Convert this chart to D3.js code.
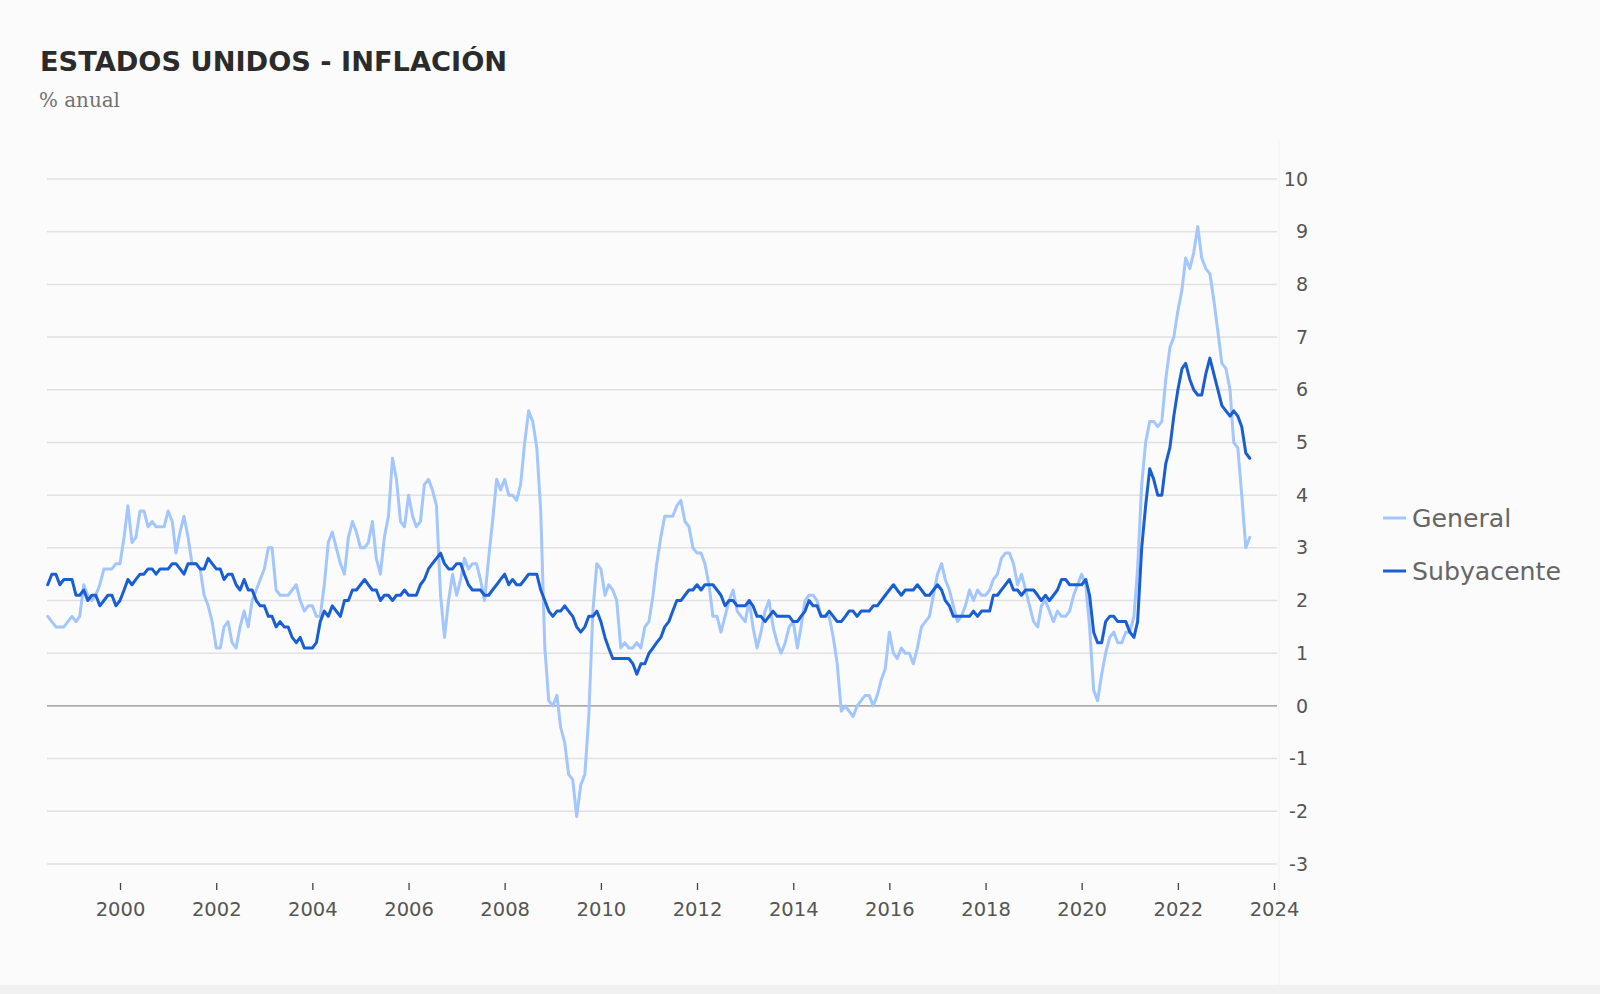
<!DOCTYPE html>
<html>
<head>
<meta charset="utf-8">
<script src="https://cdn.jsdelivr.net/npm/d3@7"></script>
<style>
  html, body { margin: 0; padding: 0; background: #fbfbfb; }
  svg { display: block; }
</style>
</head>
<body>
<svg id="chart" width="1600" height="994"></svg>
<script>
// ---- DATA (monthly, year-on-year %, starting July 1998) ----
const startMonth = "1998-07";
const endMonth = "2023-07";

const general = [
  // 1998 Jul-Dec
  1.7, 1.6, 1.5, 1.5, 1.5, 1.6,
  // 1999
  1.7, 1.6, 1.7, 2.3, 2.1, 2.0, 2.1, 2.3, 2.6, 2.6, 2.6, 2.7,
  // 2000
  2.7, 3.2, 3.8, 3.1, 3.2, 3.7, 3.7, 3.4, 3.5, 3.4, 3.4, 3.4,
  // 2001
  3.7, 3.5, 2.9, 3.3, 3.6, 3.2, 2.7, 2.7, 2.6, 2.1, 1.9, 1.6,
  // 2002
  1.1, 1.1, 1.5, 1.6, 1.2, 1.1, 1.5, 1.8, 1.5, 2.0, 2.2, 2.4,
  // 2003
  2.6, 3.0, 3.0, 2.2, 2.1, 2.1, 2.1, 2.2, 2.3, 2.0, 1.8, 1.9,
  // 2004
  1.9, 1.7, 1.7, 2.3, 3.1, 3.3, 3.0, 2.7, 2.5, 3.2, 3.5, 3.3,
  // 2005
  3.0, 3.0, 3.1, 3.5, 2.8, 2.5, 3.2, 3.6, 4.7, 4.3, 3.5, 3.4,
  // 2006
  4.0, 3.6, 3.4, 3.5, 4.2, 4.3, 4.1, 3.8, 2.1, 1.3, 2.0, 2.5,
  // 2007
  2.1, 2.4, 2.8, 2.6, 2.7, 2.7, 2.4, 2.0, 2.8, 3.5, 4.3, 4.1,
  // 2008
  4.3, 4.0, 4.0, 3.9, 4.2, 5.0, 5.6, 5.4, 4.9, 3.7, 1.1, 0.1,
  // 2009
  0.0, 0.2, -0.4, -0.7, -1.3, -1.4, -2.1, -1.5, -1.3, -0.2, 1.8, 2.7,
  // 2010
  2.6, 2.1, 2.3, 2.2, 2.0, 1.1, 1.2, 1.1, 1.1, 1.2, 1.1, 1.5,
  // 2011
  1.6, 2.1, 2.7, 3.2, 3.6, 3.6, 3.6, 3.8, 3.9, 3.5, 3.4, 3.0,
  // 2012
  2.9, 2.9, 2.7, 2.3, 1.7, 1.7, 1.4, 1.7, 2.0, 2.2, 1.8, 1.7,
  // 2013
  1.6, 2.0, 1.5, 1.1, 1.4, 1.8, 2.0, 1.5, 1.2, 1.0, 1.2, 1.5,
  // 2014
  1.6, 1.1, 1.5, 2.0, 2.1, 2.1, 2.0, 1.7, 1.7, 1.7, 1.3, 0.8,
  // 2015
  -0.1, 0.0, -0.1, -0.2, 0.0, 0.1, 0.2, 0.2, 0.0, 0.2, 0.5, 0.7,
  // 2016
  1.4, 1.0, 0.9, 1.1, 1.0, 1.0, 0.8, 1.1, 1.5, 1.6, 1.7, 2.1,
  // 2017
  2.5, 2.7, 2.4, 2.2, 1.9, 1.6, 1.7, 1.9, 2.2, 2.0, 2.2, 2.1,
  // 2018
  2.1, 2.2, 2.4, 2.5, 2.8, 2.9, 2.9, 2.7, 2.3, 2.5, 2.2, 1.9,
  // 2019
  1.6, 1.5, 1.9, 2.0, 1.8, 1.6, 1.8, 1.7, 1.7, 1.8, 2.1, 2.3,
  // 2020
  2.5, 2.3, 1.5, 0.3, 0.1, 0.6, 1.0, 1.3, 1.4, 1.2, 1.2, 1.4,
  // 2021
  1.4, 1.7, 2.6, 4.2, 5.0, 5.4, 5.4, 5.3, 5.4, 6.2, 6.8, 7.0,
  // 2022
  7.5, 7.9, 8.5, 8.3, 8.6, 9.1, 8.5, 8.3, 8.2, 7.7, 7.1, 6.5,
  // 2023 Jan-Jul
  6.4, 6.0, 5.0, 4.9, 4.0, 3.0, 3.2
];

const subyacente = [
  // 1998 Jul-Dec
  2.3, 2.5, 2.5, 2.3, 2.4, 2.4,
  // 1999
  2.4, 2.1, 2.1, 2.2, 2.0, 2.1, 2.1, 1.9, 2.0, 2.1, 2.1, 1.9,
  // 2000
  2.0, 2.2, 2.4, 2.3, 2.4, 2.5, 2.5, 2.6, 2.6, 2.5, 2.6, 2.6,
  // 2001
  2.6, 2.7, 2.7, 2.6, 2.5, 2.7, 2.7, 2.7, 2.6, 2.6, 2.8, 2.7,
  // 2002
  2.6, 2.6, 2.4, 2.5, 2.5, 2.3, 2.2, 2.4, 2.2, 2.2, 2.0, 1.9,
  // 2003
  1.9, 1.7, 1.7, 1.5, 1.6, 1.5, 1.5, 1.3, 1.2, 1.3, 1.1, 1.1,
  // 2004
  1.1, 1.2, 1.6, 1.8, 1.7, 1.9, 1.8, 1.7, 2.0, 2.0, 2.2, 2.2,
  // 2005
  2.3, 2.4, 2.3, 2.2, 2.2, 2.0, 2.1, 2.1, 2.0, 2.1, 2.1, 2.2,
  // 2006
  2.1, 2.1, 2.1, 2.3, 2.4, 2.6, 2.7, 2.8, 2.9, 2.7, 2.6, 2.6,
  // 2007
  2.7, 2.7, 2.5, 2.3, 2.2, 2.2, 2.2, 2.1, 2.1, 2.2, 2.3, 2.4,
  // 2008
  2.5, 2.3, 2.4, 2.3, 2.3, 2.4, 2.5, 2.5, 2.5, 2.2, 2.0, 1.8,
  // 2009
  1.7, 1.8, 1.8, 1.9, 1.8, 1.7, 1.5, 1.4, 1.5, 1.7, 1.7, 1.8,
  // 2010
  1.6, 1.3, 1.1, 0.9, 0.9, 0.9, 0.9, 0.9, 0.8, 0.6, 0.8, 0.8,
  // 2011
  1.0, 1.1, 1.2, 1.3, 1.5, 1.6, 1.8, 2.0, 2.0, 2.1, 2.2, 2.2,
  // 2012
  2.3, 2.2, 2.3, 2.3, 2.3, 2.2, 2.1, 1.9, 2.0, 2.0, 1.9, 1.9,
  // 2013
  1.9, 2.0, 1.9, 1.7, 1.7, 1.6, 1.7, 1.8, 1.7, 1.7, 1.7, 1.7,
  // 2014
  1.6, 1.6, 1.7, 1.8, 2.0, 1.9, 1.9, 1.7, 1.7, 1.8, 1.7, 1.6,
  // 2015
  1.6, 1.7, 1.8, 1.8, 1.7, 1.8, 1.8, 1.8, 1.9, 1.9, 2.0, 2.1,
  // 2016
  2.2, 2.3, 2.2, 2.1, 2.2, 2.2, 2.2, 2.3, 2.2, 2.1, 2.1, 2.2,
  // 2017
  2.3, 2.2, 2.0, 1.9, 1.7, 1.7, 1.7, 1.7, 1.7, 1.8, 1.7, 1.8,
  // 2018
  1.8, 1.8, 2.1, 2.1, 2.2, 2.3, 2.4, 2.2, 2.2, 2.1, 2.2, 2.2,
  // 2019
  2.2, 2.1, 2.0, 2.1, 2.0, 2.1, 2.2, 2.4, 2.4, 2.3, 2.3, 2.3,
  // 2020
  2.3, 2.4, 2.1, 1.4, 1.2, 1.2, 1.6, 1.7, 1.7, 1.6, 1.6, 1.6,
  // 2021
  1.4, 1.3, 1.6, 3.0, 3.8, 4.5, 4.3, 4.0, 4.0, 4.6, 4.9, 5.5,
  // 2022
  6.0, 6.4, 6.5, 6.2, 6.0, 5.9, 5.9, 6.3, 6.6, 6.3, 6.0, 5.7,
  // 2023 Jan-Jul
  5.6, 5.5, 5.6, 5.5, 5.3, 4.8, 4.7
];

const yTicks = [-3, -2, -1, 0, 1, 2, 3, 4, 5, 6, 7, 8, 9, 10];
const xTickYears = [2000, 2002, 2004, 2006, 2008, 2010, 2012, 2014, 2016, 2018, 2020, 2022, 2024];
const seriesNames = ["General", "Subyacente"];
const seriesColors = ["#a3c6fc", "#1a5ed3"];

const titleText = "ESTADOS UNIDOS - INFLACIÓN";
const subtitleText = "% anual";

// ---- BUILD ----
const parseMonth = d3.timeParse("%Y-%m");
const months = d3.timeMonth.range(parseMonth(startMonth), d3.timeMonth.offset(parseMonth(endMonth), 1));

const svg = d3.select("#chart");
const W = 1600, H = 994;

svg.append("rect").attr("x", 0).attr("y", 0).attr("width", W).attr("height", H).attr("fill", "#fbfbfb");
svg.append("rect").attr("x", 0).attr("y", 985).attr("width", W).attr("height", H - 985).attr("fill", "#f1f1f1");

const plotLeft = 47, plotRight = 1277;

const x = d3.scaleTime()
  .domain([new Date(2000, 0, 1), new Date(2024, 0, 1)])
  .range([120, 1274]);

const y = d3.scaleLinear()
  .domain([-3, 10])
  .range([864, 179]);

// faint plot-area boundary
svg.append("line")
  .attr("x1", plotRight + 2).attr("x2", plotRight + 2)
  .attr("y1", 140).attr("y2", 985)
  .attr("stroke", "#f3f3f3").attr("stroke-width", 1.2);

// gridlines
const grid = svg.append("g");
grid.selectAll("line")
  .data(yTicks)
  .join("line")
  .attr("x1", plotLeft).attr("x2", plotRight)
  .attr("y1", d => y(d)).attr("y2", d => y(d))
  .attr("stroke", d => d === 0 ? "#8c8c8c" : "#e1e1e1")
  .attr("stroke-width", d => d === 0 ? 1.2 : 1.5);

// Y axis labels (right)
const yAxis = d3.axisRight(y).tickValues(yTicks).tickSize(0).tickPadding(0).tickFormat(d => String(d));
const gy = svg.append("g").attr("transform", "translate(1308,0)").call(yAxis);
gy.select(".domain").remove();
gy.selectAll("text")
  .attr("text-anchor", "end")
  .attr("x", 0)
  .attr("font-family", "'DejaVu Sans', sans-serif")
  .attr("font-size", 19)
  .attr("fill", "#555");

// X axis
const xAxis = d3.axisBottom(x)
  .tickValues(xTickYears.map(yr => new Date(yr, 0, 1)))
  .tickSize(7)
  .tickPadding(12)
  .tickFormat(d3.timeFormat("%Y"));
const gx = svg.append("g").attr("transform", "translate(0,883)").call(xAxis);
gx.select(".domain").remove();
gx.selectAll(".tick line").attr("stroke", "#444").attr("stroke-width", 1.3);
gx.selectAll("text")
  .attr("font-family", "'DejaVu Sans', sans-serif")
  .attr("font-size", 19.5)
  .attr("fill", "#555");

// lines
const line = d3.line()
  .x((d, i) => x(months[i]))
  .y(d => y(d))
  .curve(d3.curveLinear);

svg.append("path")
  .datum(general)
  .attr("d", line)
  .attr("fill", "none")
  .attr("stroke", seriesColors[0])
  .attr("stroke-width", 3)
  .attr("stroke-linejoin", "round")
  .attr("stroke-linecap", "round");

svg.append("path")
  .datum(subyacente)
  .attr("d", line)
  .attr("fill", "none")
  .attr("stroke", seriesColors[1])
  .attr("stroke-width", 3)
  .attr("stroke-linejoin", "round")
  .attr("stroke-linecap", "round");

// title
function fitWidth(sel, target) {
  const node = sel.node();
  const fs = parseFloat(sel.attr("font-size"));
  const w = node.getComputedTextLength();
  if (w > 0) sel.attr("font-size", (fs * target / w).toFixed(2));
  return parseFloat(sel.attr("font-size"));
}

const title = svg.append("text")
  .attr("x", 40).attr("y", 71)
  .attr("font-family", "'DejaVu Sans', sans-serif")
  .attr("font-weight", 700)
  .attr("font-size", 28)
  .attr("fill", "#2b2b2b")
  .text(titleText);
fitWidth(title, 467);

const sub = svg.append("text")
  .attr("x", 39).attr("y", 107)
  .attr("font-family", "'DejaVu Serif', serif")
  .attr("font-size", 19)
  .attr("fill", "#727272")
  .text(subtitleText);
fitWidth(sub, 81);

// legend
const legendY = [518, 571];
const lg = svg.append("g");
const legendTexts = [];
seriesNames.forEach((name, i) => {
  lg.append("line")
    .attr("x1", 1383).attr("x2", 1406)
    .attr("y1", legendY[i]).attr("y2", legendY[i])
    .attr("stroke", seriesColors[i]).attr("stroke-width", 3);
  const t = lg.append("text")
    .attr("x", 1412).attr("y", legendY[i])
    .attr("dy", "0.35em")
    .attr("font-family", "'DejaVu Sans', sans-serif")
    .attr("font-size", 24)
    .attr("fill", "#666")
    .text(name);
  legendTexts.push(t);
});
const legendFs = fitWidth(legendTexts[1], 149);
legendTexts[0].attr("font-size", legendFs);
</script>
</body>
</html>
